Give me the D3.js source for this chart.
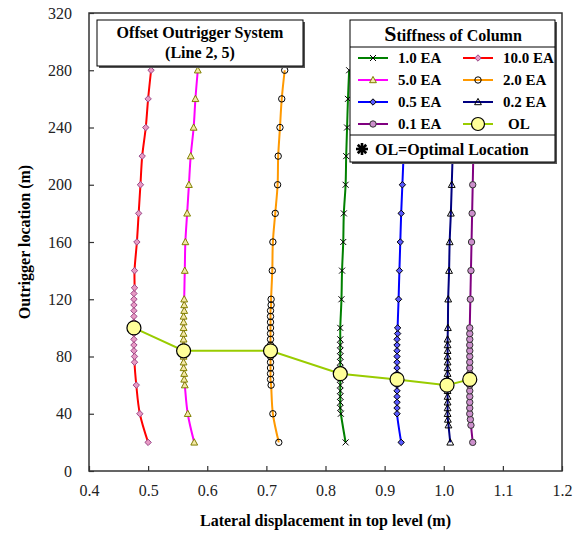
<!DOCTYPE html>
<html>
<head>
<meta charset="utf-8">
<script src="https://cdn.jsdelivr.net/npm/d3@7"></script>
<style>
  body { margin: 0; background: #fff; }
  text { font-family: "Liberation Serif", "Times New Roman", serif; }
</style>
</head>
<body>
<div id="chart"></div>
<script>
// axis ticks
var xTicks = [0.4, 0.5, 0.6, 0.7, 0.8, 0.9, 1.0, 1.1, 1.2];
var yTicks = [0, 40, 80, 120, 160, 200, 240, 280, 320];

// 10.0 EA
var loc10 = [20, 40, 60, 76, 80, 84, 88, 92, 96, 100, 104, 108, 112, 116, 120, 124, 128, 140, 160, 180, 200, 220, 240, 260, 280];
var disp10 = [0.500, 0.486, 0.480, 0.477, 0.477, 0.476, 0.476, 0.476, 0.476, 0.476, 0.476, 0.476, 0.476, 0.476, 0.476, 0.476, 0.477, 0.477, 0.481, 0.484, 0.487, 0.490, 0.496, 0.500, 0.505];
// 5.0 EA
var loc5 = [20, 40, 60, 64, 68, 72, 76, 80, 84, 88, 92, 96, 100, 104, 108, 112, 116, 120, 140, 160, 180, 200, 220, 240, 260, 280];
var disp5 = [0.578, 0.567, 0.562, 0.561, 0.561, 0.560, 0.560, 0.560, 0.560, 0.560, 0.560, 0.560, 0.560, 0.560, 0.560, 0.561, 0.561, 0.561, 0.562, 0.563, 0.566, 0.569, 0.572, 0.577, 0.580, 0.584];
// 2.0 EA
var loc2 = [20, 40, 60, 64, 68, 72, 76, 80, 84, 88, 92, 96, 100, 104, 108, 112, 116, 120, 140, 160, 180, 200, 220, 240, 260, 280];
var disp2 = [0.721, 0.711, 0.708, 0.707, 0.707, 0.707, 0.707, 0.707, 0.707, 0.707, 0.707, 0.707, 0.707, 0.707, 0.707, 0.707, 0.708, 0.708, 0.710, 0.711, 0.715, 0.719, 0.720, 0.723, 0.726, 0.731];
// 1.0 EA
var loc1 = [20, 40, 44, 48, 52, 56, 60, 64, 68, 72, 76, 80, 84, 88, 92, 100, 120, 140, 160, 180, 200, 220, 240, 260, 280];
var disp1 = [0.834, 0.826, 0.825, 0.825, 0.825, 0.825, 0.825, 0.825, 0.825, 0.825, 0.825, 0.825, 0.825, 0.825, 0.825, 0.825, 0.827, 0.828, 0.830, 0.831, 0.834, 0.835, 0.8365, 0.838, 0.840];
// 0.5 EA
var loc05 = [20, 40, 44, 48, 52, 56, 60, 64, 68, 72, 76, 80, 84, 88, 92, 96, 100, 120, 140, 160, 180, 200, 220, 240, 260, 280];
var disp05 = [0.928, 0.921, 0.921, 0.921, 0.921, 0.921, 0.921, 0.921, 0.921, 0.921, 0.921, 0.921, 0.921, 0.921, 0.921, 0.922, 0.922, 0.9236, 0.925, 0.9265, 0.928, 0.930, 0.932, 0.934, 0.936, 0.938];
// 0.2 EA
var loc02 = [20, 32, 36, 40, 44, 48, 52, 56, 60, 64, 68, 72, 76, 80, 84, 88, 92, 100, 120, 140, 160, 180, 200, 220, 240, 260, 280];
var disp02 = [1.011, 1.008, 1.007, 1.0065, 1.0065, 1.0065, 1.0065, 1.0065, 1.0065, 1.0065, 1.0065, 1.0065, 1.0065, 1.0065, 1.0065, 1.0065, 1.0065, 1.007, 1.0075, 1.009, 1.010, 1.012, 1.0135, 1.015, 1.016, 1.018, 1.019];
// 0.1 EA
var loc01 = [20, 32, 36, 40, 44, 48, 52, 56, 60, 64, 68, 72, 76, 80, 84, 88, 92, 96, 100, 120, 140, 160, 180, 200, 220, 240, 260, 280];
var disp01 = [1.049, 1.046, 1.045, 1.044, 1.044, 1.044, 1.044, 1.044, 1.044, 1.044, 1.044, 1.044, 1.044, 1.044, 1.044, 1.044, 1.044, 1.044, 1.044, 1.045, 1.046, 1.047, 1.048, 1.049, 1.050, 1.051, 1.052, 1.053];
// optimal locations
var olDisp = [0.476, 0.560, 0.707, 0.825, 0.921, 1.0055, 1.044];
var olLoc = [100, 84, 84, 68, 64, 60, 64];

var svgWidth = 575;
var svgHeight = 536;
var plot = { left: 89, right: 562, top: 13, bottom: 471 };

var svg = d3.select("#chart")
  .append("svg")
  .attr("width", svgWidth)
  .attr("height", svgHeight);

var xScale = d3.scaleLinear().domain([0.4, 1.2]).range([plot.left, plot.right]);
var yScale = d3.scaleLinear().domain([0, 320]).range([plot.bottom, plot.top]);

// series table built from the arrays above
var series = [
  { name: "1.0 EA", loc: loc1, disp: disp1, color: "#008000", marker: "x", mStroke: "#000", mFill: "none" },
  { name: "10.0 EA", loc: loc10, disp: disp10, color: "#ff0000", marker: "diamond", mStroke: "#9a4a8a", mFill: "#e89ac4" },
  { name: "5.0 EA", loc: loc5, disp: disp5, color: "#ff00ff", marker: "triangle", mStroke: "#808000", mFill: "#f4e8a8" },
  { name: "2.0 EA", loc: loc2, disp: disp2, color: "#ff9900", marker: "circle", mStroke: "#000", mFill: "none" },
  { name: "0.5 EA", loc: loc05, disp: disp05, color: "#0000ff", marker: "diamond", mStroke: "#000", mFill: "#5a5aff" },
  { name: "0.2 EA", loc: loc02, disp: disp02, color: "#000080", marker: "triangle", mStroke: "#000", mFill: "none" },
  { name: "0.1 EA", loc: loc01, disp: disp01, color: "#800080", marker: "circle", mStroke: "#333", mFill: "#cc8fcc" }
];

function markerPath(type) {
  if (type === "x") return "M-3,-3L3,3M-3,3L3,-3";
  if (type === "diamond") return "M0,-3.2L3.2,0L0,3.2L-3.2,0Z";
  if (type === "triangle") return "M0,-3.6L3.4,2.7L-3.4,2.7Z";
  return null;
}

function drawMarker(g, s, x, y) {
  if (s.marker === "circle") {
    g.append("circle").attr("cx", x).attr("cy", y).attr("r", 3.2)
      .attr("fill", s.mFill).attr("stroke", s.mStroke).attr("stroke-width", 1);
  } else {
    g.append("path").attr("d", markerPath(s.marker))
      .attr("transform", "translate(" + x + "," + y + ")")
      .attr("fill", s.mFill).attr("stroke", s.mStroke).attr("stroke-width", 1);
  }
}

// axes (ticks inside)
var xAxis = d3.axisBottom(xScale).tickValues(xTicks).tickSize(-5).tickPadding(14)
  .tickFormat(d3.format(".1f"));
var yAxis = d3.axisLeft(yScale).tickValues(yTicks).tickSize(-5).tickPadding(17);

var gx = svg.append("g").attr("transform", "translate(0," + plot.bottom + ")").call(xAxis);
var gy = svg.append("g").attr("transform", "translate(" + plot.left + ",0)").call(yAxis);
[gx, gy].forEach(function(g) {
  g.select(".domain").remove();
  g.selectAll(".tick line").attr("stroke", "#333").attr("stroke-width", 1.2);
  g.selectAll(".tick text").attr("font-size", 16).attr("fill", "#222")
    .style("font-family", "'Liberation Serif', 'Times New Roman', serif");
});

// frame
svg.append("rect")
  .attr("x", plot.left).attr("y", plot.top)
  .attr("width", plot.right - plot.left).attr("height", plot.bottom - plot.top)
  .attr("fill", "none").attr("stroke", "#333").attr("stroke-width", 1.5);

var line = d3.line()
  .x(function(d) { return xScale(d[0]); })
  .y(function(d) { return yScale(d[1]); })
  .curve(d3.curveCatmullRom);

var dataG = svg.append("g");
series.forEach(function(s) {
  var pts = s.disp.map(function(v, i) { return [v, s.loc[i]]; });
  dataG.append("path").datum(pts)
    .attr("d", line)
    .attr("fill", "none")
    .attr("stroke", s.color)
    .attr("stroke-width", 2);
  var mg = dataG.append("g");
  pts.forEach(function(p) { drawMarker(mg, s, xScale(p[0]), yScale(p[1])); });
});

// optimal location line
var olPts = olDisp.map(function(v, i) { return [v, olLoc[i]]; });
dataG.append("path").datum(olPts)
  .attr("d", d3.line().x(function(d) { return xScale(d[0]); }).y(function(d) { return yScale(d[1]); }))
  .attr("fill", "none").attr("stroke", "#99cc00").attr("stroke-width", 2);
dataG.selectAll("circle.ol").data(olPts).enter().append("circle")
  .attr("class", "ol")
  .attr("cx", function(d) { return xScale(d[0]); })
  .attr("cy", function(d) { return yScale(d[1]); })
  .attr("r", 7)
  .attr("fill", "#ffff99").attr("stroke", "#000").attr("stroke-width", 1.2);

// title box
svg.append("rect").attr("x", 99).attr("y", 22).attr("width", 206).attr("height", 46).attr("fill", "#555");
svg.append("rect").attr("x", 97).attr("y", 20).attr("width", 206).attr("height", 46)
  .attr("fill", "#fff").attr("stroke", "#000").attr("stroke-width", 1);
svg.append("text").attr("x", 200).attr("y", 38).attr("text-anchor", "middle")
  .attr("font-size", 16).attr("font-weight", "bold").text("Offset Outrigger System");
svg.append("text").attr("x", 200).attr("y", 58).attr("text-anchor", "middle")
  .attr("font-size", 16).attr("font-weight", "bold").text("(Line 2, 5)");

// legend
var lg = svg.append("g");
lg.append("rect").attr("x", 352).attr("y", 22).attr("width", 205).attr("height", 142).attr("fill", "#555");
lg.append("rect").attr("x", 350).attr("y", 20).attr("width", 205).attr("height", 142)
  .attr("fill", "#fff").attr("stroke", "#000").attr("stroke-width", 1);
lg.append("line").attr("x1", 350).attr("x2", 555).attr("y1", 47).attr("y2", 47).attr("stroke", "#000");
lg.append("line").attr("x1", 350).attr("x2", 555).attr("y1", 135).attr("y2", 135).attr("stroke", "#000");
var head = lg.append("text").attr("x", 453).attr("y", 41).attr("text-anchor", "middle")
  .attr("font-weight", "bold");
head.append("tspan").attr("font-size", 22).text("S");
head.append("tspan").attr("font-size", 16).text("tiffness of Column");

var legendItems = series.concat([{ name: "OL", color: "#99cc00", marker: "ol" }]);
legendItems.forEach(function(s, i) {
  var col = i % 2, row = Math.floor(i / 2);
  var x0 = col === 0 ? 358 : 463;
  var y0 = 58 + row * 22;
  lg.append("line").attr("x1", x0).attr("x2", x0 + 30).attr("y1", y0).attr("y2", y0)
    .attr("stroke", s.color).attr("stroke-width", 2);
  if (s.marker === "ol") {
    lg.append("circle").attr("cx", x0 + 15).attr("cy", y0).attr("r", 6.5)
      .attr("fill", "#ffff99").attr("stroke", "#000").attr("stroke-width", 1.2);
  } else {
    drawMarker(lg, s, x0 + 15, y0);
  }
  lg.append("text").attr("x", s.marker === "ol" ? x0 + 45 : x0 + 40).attr("y", y0 + 5)
    .attr("font-size", 15).attr("font-weight", "bold").text(s.name);
});

// asterisk + note
var ast = lg.append("g").attr("transform", "translate(362,149)");
[0, 45, 90, 135].forEach(function(a) {
  ast.append("line").attr("x1", -6).attr("x2", 6).attr("y1", 0).attr("y2", 0)
    .attr("transform", "rotate(" + a + ")").attr("stroke", "#000").attr("stroke-width", 2.6);
});
lg.append("text").attr("x", 375).attr("y", 155).attr("font-size", 16).attr("font-weight", "bold")
  .text("OL=Optimal Location");

// axis labels
svg.append("text")
  .attr("transform", "translate(30," + ((plot.top + plot.bottom) / 2) + ") rotate(-90)")
  .attr("text-anchor", "middle").attr("font-size", 16).attr("font-weight", "bold")
  .text("Outrigger location (m)");
svg.append("text")
  .attr("x", (plot.left + plot.right) / 2).attr("y", 526)
  .attr("text-anchor", "middle").attr("font-size", 16).attr("font-weight", "bold")
  .text("Lateral displacement in top level (m)");
</script>
</body>
</html>
